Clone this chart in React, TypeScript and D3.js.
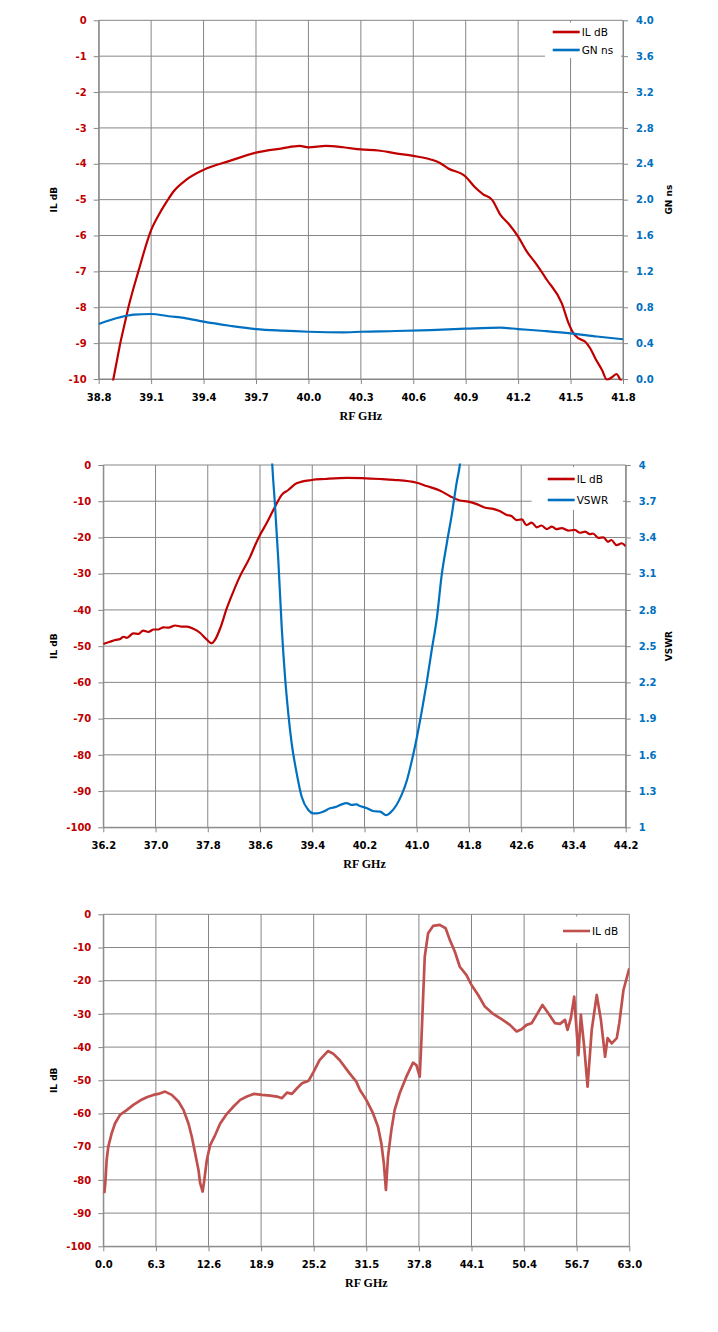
import React, { useEffect, useRef } from "react";
import * as d3 from "d3";

// ---- chart 1: passband IL + group delay ----
const p1Freq = [38.87, 38.884, 38.97, 39.027, 39.1, 39.15, 39.19, 39.227, 39.3, 39.4, 39.55, 39.7, 39.85, 39.95, 40.0, 40.1, 40.2, 40.3, 40.4, 40.5, 40.6, 40.7, 40.75, 40.8, 40.9, 40.95, 41.0, 41.05, 41.1, 41.15, 41.2, 41.25, 41.3, 41.365, 41.45, 41.489, 41.517, 41.546, 41.584, 41.613, 41.641, 41.68, 41.708, 41.737, 41.763, 41.785, 41.8];
const p1IL = [-10.4, -10, -8, -7, -5.85, -5.37, -5.05, -4.78, -4.45, -4.17, -3.92, -3.69, -3.57, -3.5, -3.54, -3.5, -3.54, -3.6, -3.63, -3.71, -3.78, -3.88, -3.97, -4.13, -4.36, -4.64, -4.85, -5.0, -5.43, -5.7, -6.03, -6.45, -6.77, -7.24, -7.89, -8.45, -8.73, -8.87, -8.96, -9.15, -9.42, -9.75, -10.02, -9.95, -9.86, -10.02, -10.1];
const p1GnFreq = [38.8, 38.9, 39.0, 39.1, 39.2, 39.3, 39.4, 39.55, 39.7, 39.85, 40.0, 40.2, 40.3, 40.5, 40.7, 40.9, 41.1, 41.2, 41.35, 41.5, 41.65, 41.8];
const p1GN = [0.613, 0.677, 0.717, 0.725, 0.7, 0.677, 0.639, 0.594, 0.557, 0.539, 0.527, 0.52, 0.527, 0.535, 0.546, 0.561, 0.572, 0.557, 0.535, 0.509, 0.474, 0.443];
const p1XTicks = [38.8, 39.1, 39.4, 39.7, 40.0, 40.3, 40.6, 40.9, 41.2, 41.5, 41.8];
const p1YTicks = [0, -1, -2, -3, -4, -5, -6, -7, -8, -9, -10];
const p1RTicks = [0, 0.4, 0.8, 1.2, 1.6, 2.0, 2.4, 2.8, 3.2, 3.6, 4.0];

// ---- chart 2: wider span IL + VSWR ----
const p2Freq = [36.2, 36.3, 36.38, 36.46, 36.51, 36.56, 36.66, 36.74, 36.81, 36.89, 36.97, 37.04, 37.12, 37.2, 37.3, 37.4, 37.48, 37.58, 37.68, 37.78, 37.86, 37.91, 37.99, 38.09, 38.19, 38.29, 38.45, 38.523, 38.6, 38.7, 38.83, 38.93, 39.033, 39.16, 39.39, 39.595, 39.93, 40.44, 40.65, 41.0, 41.15, 41.36, 41.51, 41.66, 41.79, 41.92, 42.05, 42.17, 42.27, 42.38, 42.45, 42.53, 42.61, 42.68, 42.76, 42.84, 42.91, 42.99, 43.07, 43.14, 43.22, 43.32, 43.42, 43.5, 43.58, 43.65, 43.7, 43.78, 43.86, 43.93, 43.98, 44.06, 44.14, 44.2];
const p2IL = [-49.4, -48.8, -48.3, -48.0, -47.4, -47.7, -46.5, -46.6, -45.7, -46.1, -45.4, -45.4, -44.8, -44.9, -44.3, -44.6, -44.6, -45.2, -46.3, -48.1, -49.2, -48.3, -45.1, -39.6, -35.0, -30.8, -25.3, -22.2, -19.3, -16.1, -11.5, -8.3, -6.9, -5.05, -4.14, -3.86, -3.55, -3.86, -4.1, -4.9, -5.8, -7.1, -8.6, -9.8, -10.1, -10.8, -11.8, -12.1, -12.7, -13.8, -14.1, -15.2, -15.0, -16.6, -15.9, -17.2, -16.7, -17.7, -17.0, -17.7, -17.4, -18.1, -17.9, -18.7, -18.4, -19.1, -18.9, -20.1, -20.0, -21.2, -20.7, -22.1, -21.6, -22.4];
const p2VswrFreq = [38.77, 38.788, 38.829, 38.88, 38.932, 38.983, 39.033, 39.085, 39.162, 39.238, 39.339, 39.416, 39.47, 39.57, 39.67, 39.77, 39.85, 39.93, 40.0, 40.08, 40.13, 40.23, 40.33, 40.44, 40.53, 40.62, 40.69, 40.77, 40.85, 40.92, 41.0, 41.08, 41.15, 41.23, 41.31, 41.38, 41.46, 41.54, 41.61, 41.66, 41.69];
const p2Vswr = [4.2, 4.0, 3.669, 3.213, 2.66, 2.245, 1.942, 1.694, 1.446, 1.253, 1.143, 1.116, 1.116, 1.13, 1.157, 1.17, 1.19, 1.2, 1.185, 1.19, 1.176, 1.16, 1.135, 1.13, 1.1, 1.135, 1.185, 1.27, 1.39, 1.54, 1.74, 1.97, 2.19, 2.47, 2.74, 3.08, 3.35, 3.6, 3.85, 4.0, 4.15];
const p2XTicks = [36.2, 37.0, 37.8, 38.6, 39.4, 40.2, 41.0, 41.8, 42.6, 43.4, 44.2];
const p2YTicks = [0, -10, -20, -30, -40, -50, -60, -70, -80, -90, -100];
const p2RTicks = [1, 1.3, 1.6, 1.9, 2.2, 2.5, 2.8, 3.1, 3.4, 3.7, 4];

// ---- chart 3: broadband IL ----
const p3Freq = [0.12, 0.24, 0.4, 0.6, 1.0, 1.4, 2.0, 2.8, 3.6, 4.4, 5.2, 6.0, 6.6, 7.4, 8.2, 9.0, 9.6, 10.2, 10.6, 11.0, 11.4, 11.6, 11.9, 12.1, 12.4, 12.8, 13.4, 14.0, 14.8, 15.6, 16.4, 17.2, 18.0, 19.0, 20.0, 20.8, 21.4, 22.0, 22.6, 23.2, 23.8, 24.6, 25.2, 25.9, 26.9, 27.5, 28.3, 29.5, 30.3, 30.74, 31.5, 32.3, 32.9, 33.3, 33.6, 33.85, 34.1, 34.5, 34.9, 35.5, 36.3, 37.1, 37.5, 37.9, 38.1, 38.5, 38.9, 39.5, 40.3, 41.0, 41.5, 42.1, 42.7, 43.5, 44.1, 44.9, 45.7, 46.7, 47.7, 48.7, 49.5, 50.1, 50.7, 51.3, 51.9, 52.6, 53.3, 54.1, 54.7, 55.3, 55.6, 56.0, 56.4, 56.9, 57.2, 57.6, 58.0, 58.5, 59.1, 59.6, 60.1, 60.4, 60.9, 61.5, 61.8, 62.3, 63.0];
const p3IL = [-84.0, -81, -74, -70, -66, -63, -60.4, -59, -57.4, -56.1, -55.1, -54.4, -54.1, -53.4, -54.4, -56.4, -58.9, -63, -67, -72, -77, -81, -83.5, -80, -74, -69.5, -66.5, -63, -60.1, -57.9, -55.9, -54.9, -54.1, -54.4, -54.6, -54.9, -55.4, -53.7, -54.1, -52.4, -50.9, -50.1, -47.4, -43.9, -41.2, -41.9, -43.9, -47.9, -50.4, -52.9, -55.9, -59.9, -64, -69, -75, -83, -73, -65, -58.9, -53.9, -48.9, -44.7, -45.4, -48.9, -37.9, -12.8, -5.7, -3.5, -3.2, -4.2, -7.7, -11.2, -15.8, -18.3, -21.3, -24.3, -27.8, -30, -31.6, -33.3, -35.3, -34.6, -33.3, -32.8, -30.3, -27.3, -29.8, -32.8, -33, -31.8, -34.8, -31.3, -24.8, -42.4, -30.3, -39.9, -51.9, -34.8, -24.3, -31.8, -42.9, -37.3, -38.9, -37.3, -32.8, -22.8, -16.3];
const p3XTicks = [0.0, 6.3, 12.6, 18.9, 25.2, 31.5, 37.8, 44.1, 50.4, 56.7, 63.0];
const p3YTicks = [0, -10, -20, -30, -40, -50, -60, -70, -80, -90, -100];

const RED = "#c00000";
const BLUE = "#0070c0";
const SOFT_RED = "#c0504d";
const GRID = "#868686";
const TICK_FONT = "'DejaVu Sans', Verdana, sans-serif";

const zip = (xs: number[], ys: number[]) => xs.map((x, i) => ({ x, y: ys[i] }));
// plain hyphen minus, like the original spreadsheet chart
const intFmt = (v: number) => String(Math.round(v));
const oneDec = (v: number) => v.toFixed(1);
const general = (v: number) => String(+v.toFixed(1));

const panels = [
  {
    id: "p1",
    left: 98.7, right: 623, top: 20.3, bottom: 379,
    xDomain: [38.8, 41.8], xTicks: p1XTicks, xFmt: oneDec,
    yDomain: [-10, 0], yTicks: p1YTicks, yFmt: intFmt,
    rDomain: [0, 4], rTicks: p1RTicks, rFmt: oneDec,
    yTitle: "IL dB", rTitle: "GN ns",
    series: [
      { name: "IL dB", data: zip(p1Freq, p1IL), axis: "l", color: RED, width: 2.2, smooth: true },
      { name: "GN ns", data: zip(p1GnFreq, p1GN), axis: "r", color: BLUE, width: 2.2, smooth: true },
    ],
    legend: { x0: 545, x1: 621, y0: 22.5, y1: 58, lineX: 552.7, rows: [32, 50] },
  },
  {
    id: "p2",
    left: 103.3, right: 625.7, top: 465, bottom: 827.3,
    xDomain: [36.2, 44.2], xTicks: p2XTicks, xFmt: oneDec,
    yDomain: [-100, 0], yTicks: p2YTicks, yFmt: intFmt,
    rDomain: [1, 4], rTicks: p2RTicks, rFmt: general,
    yTitle: "IL dB", rTitle: "VSWR",
    series: [
      { name: "IL dB", data: zip(p2Freq, p2IL), axis: "l", color: RED, width: 2.2, smooth: true },
      { name: "VSWR", data: zip(p2VswrFreq, p2Vswr), axis: "r", color: BLUE, width: 2.2, smooth: true },
    ],
    legend: { x0: 531.7, x1: 623, y0: 467, y1: 510, lineX: 547.7, rows: [479, 500] },
  },
  {
    id: "p3",
    left: 103.3, right: 629.3, top: 914.3, bottom: 1246.3,
    xDomain: [0, 63], xTicks: p3XTicks, xFmt: oneDec,
    yDomain: [-100, 0], yTicks: p3YTicks, yFmt: intFmt,
    rDomain: null, rTicks: [], rFmt: null,
    yTitle: "IL dB", rTitle: null,
    series: [
      { name: "IL dB", data: zip(p3Freq, p3IL), axis: "l", color: SOFT_RED, width: 2.7, smooth: false },
    ],
    legend: { x0: 555, x1: 627, y0: 916.5, y1: 943, lineX: 563, rows: [931] },
  },
];

const App: React.FC = () => {
  const svgRef = useRef<SVGSVGElement | null>(null);

  useEffect(() => {
    const svg = d3.select(svgRef.current);
    svg.selectAll("*").remove();

    panels.forEach((p) => {
      const x = d3.scaleLinear().domain(p.xDomain).range([p.left, p.right]);
      const y = d3.scaleLinear().domain(p.yDomain).range([p.bottom, p.top]);
      const r = p.rDomain ? d3.scaleLinear().domain(p.rDomain).range([p.bottom, p.top]) : null;
      const g = svg.append("g");

      // grid
      g.append("g")
        .selectAll("line")
        .data(p.yTicks)
        .join("line")
        .attr("x1", p.left).attr("x2", p.right)
        .attr("y1", (d) => y(d)).attr("y2", (d) => y(d))
        .attr("stroke", GRID).attr("stroke-width", 1);
      g.append("g")
        .selectAll("line")
        .data(p.xTicks)
        .join("line")
        .attr("x1", (d) => x(d)).attr("x2", (d) => x(d))
        .attr("y1", p.top).attr("y2", p.bottom)
        .attr("stroke", GRID).attr("stroke-width", 1);

      const styleAxis = (sel: any, color: string) => {
        sel.attr("font-family", null).attr("font-size", null);
        sel.select(".domain").attr("stroke", GRID);
        sel.selectAll(".tick line").attr("stroke", GRID);
        sel.selectAll("text")
          .attr("fill", color)
          .style("font-family", TICK_FONT)
          .style("font-size", "10px")
          .style("font-weight", "bold");
      };

      g.append("g")
        .attr("transform", `translate(0,${p.bottom})`)
        .call(d3.axisBottom(x).tickValues(p.xTicks).tickSize(5).tickSizeOuter(0).tickPadding(10).tickFormat(p.xFmt as any))
        .call((s) => styleAxis(s, "#000"));

      g.append("g")
        .attr("transform", `translate(${p.left},0)`)
        .call(d3.axisLeft(y).tickValues(p.yTicks).tickSize(5).tickSizeOuter(0).tickPadding(7).tickFormat(p.yFmt as any))
        .call((s) => styleAxis(s, RED));

      if (r) {
        g.append("g")
          .attr("transform", `translate(${p.right},0)`)
          .call(d3.axisRight(r).tickValues(p.rTicks).tickSize(5).tickSizeOuter(0).tickPadding(8).tickFormat(p.rFmt as any))
          .call((s) => styleAxis(s, BLUE));
      }

      // series
      const clipId = `clip-${p.id}`;
      g.append("clipPath").attr("id", clipId)
        .append("rect")
        .attr("x", p.left).attr("y", p.top - 1.5)
        .attr("width", p.right - p.left).attr("height", p.bottom - p.top + 3);

      p.series.forEach((s) => {
        const ys = s.axis === "r" && r ? r : y;
        const line = d3.line<{ x: number; y: number }>()
          .x((d) => x(d.x))
          .y((d) => ys(d.y))
          .curve(s.smooth ? d3.curveMonotoneX : d3.curveLinear);
        g.append("path")
          .attr("clip-path", `url(#${clipId})`)
          .attr("d", line(s.data))
          .attr("fill", "none")
          .attr("stroke", s.color)
          .attr("stroke-width", s.width)
          .attr("stroke-linejoin", "round");
      });

      // legend
      const lg = p.legend;
      g.append("rect")
        .attr("x", lg.x0).attr("y", lg.y0)
        .attr("width", lg.x1 - lg.x0).attr("height", lg.y1 - lg.y0)
        .attr("fill", "#fff");
      p.series.forEach((s, i) => {
        const ry = lg.rows[i];
        g.append("line")
          .attr("x1", lg.lineX).attr("x2", lg.lineX + 27)
          .attr("y1", ry).attr("y2", ry)
          .attr("stroke", s.color).attr("stroke-width", 2.6);
        g.append("text")
          .attr("x", lg.lineX + 29).attr("y", ry)
          .attr("dy", "0.35em")
          .style("font-family", TICK_FONT)
          .style("font-size", "10.5px")
          .attr("fill", "#000")
          .text(s.name);
      });

      // axis titles
      g.append("text")
        .attr("x", (p.left + p.right) / 2)
        .attr("y", p.bottom + 41)
        .attr("text-anchor", "middle")
        .style("font-family", "'Liberation Serif', 'Times New Roman', serif")
        .style("font-size", "12px")
        .style("font-weight", "bold")
        .text("RF GHz");

      const cy = (p.top + p.bottom) / 2;
      g.append("text")
        .attr("transform", `translate(54,${cy}) rotate(-90)`)
        .attr("text-anchor", "middle")
        .attr("dy", "0.35em")
        .style("font-family", TICK_FONT)
        .style("font-size", "9px")
        .style("font-weight", "bold")
        .text(p.yTitle);

      if (p.rTitle) {
        g.append("text")
          .attr("transform", `translate(669,${cy}) rotate(-90)`)
          .attr("text-anchor", "middle")
          .attr("dy", "0.35em")
          .style("font-family", TICK_FONT)
          .style("font-size", "9px")
          .style("font-weight", "bold")
          .text(p.rTitle);
      }
    });
  }, []);

  return (
    <svg
      ref={svgRef}
      width={718}
      height={1332}
      style={{ position: "absolute", left: 0, top: 0, background: "#fff" }}
    ></svg>
  );
};

export default App;
